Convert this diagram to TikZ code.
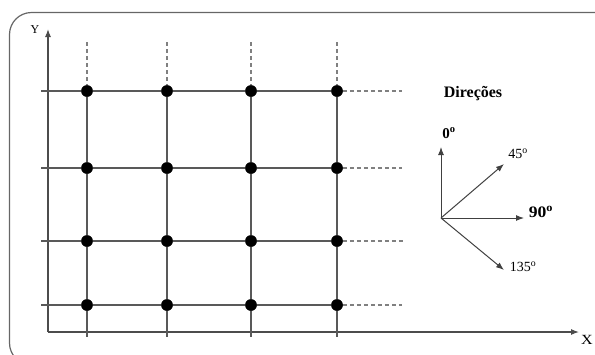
\documentclass[tikz,border=0pt]{standalone}
\usepackage{fontspec}
\setmainfont{Liberation Serif}
\usetikzlibrary{arrows.meta}
\begin{document}
\begin{tikzpicture}[x=1pt,y=-1pt,
  gridline/.style={draw=black!65,line width=1.1pt},
  dashline/.style={draw=black!50,line width=1.1pt,dash pattern=on 4pt off 3pt},
  axisline/.style={draw=black!70,line width=1.1pt,-{Latex[length=8pt,width=6pt]}},
  dirarrow/.style={draw=black!75,line width=1pt,-{Latex[length=8pt,width=6pt]}},
  dot/.style={circle,fill=black,inner sep=0pt,minimum size=11.5pt},
  lbl/.style={inner sep=0pt}]
\useasboundingbox (0,0) rectangle (595,354);
% frame
\begin{scope}
\clip (0,0) rectangle (595,354);
\draw[black!60,line width=1.2pt,rounded corners=22pt] (9.5,12.5) rectangle (616,365);
\end{scope}
% axes
\coordinate (O) at (48,332);
\coordinate (Ytip) at (48,29);
\coordinate (Xtip) at (579,332);
\draw[axisline] (O) -- (Ytip);
\draw[axisline] (O) -- (Xtip);
\node[lbl,font=\fontsize{12}{14}\selectfont] (ylab) at (35,30) {Y};
\node[lbl,xscale=1.15,font=\fontsize{14}{16}\selectfont] (xlab) at (587,340) {X};
% grid coordinates
\foreach \i/\x in {1/87,2/167,3/251,4/337}{
  \coordinate (top\i) at (\x,42);
  \coordinate (bot\i) at (\x,337);
}
\foreach \j/\y in {1/91,2/168,3/241,4/305}{
  \coordinate (left\j) at (41,\y);
}
\coordinate (right1) at (402,91);
\coordinate (right2) at (402,168);
\coordinate (right3) at (405,241);
\coordinate (right4) at (402,305);
% dot nodes
\foreach \i/\x in {1/87,2/167,3/251,4/337}{
  \foreach \j/\y in {1/91,2/168,3/241,4/305}{
    \node[dot] (d\i\j) at (\x,\y) {};
  }
}
% lines
\foreach \j in {1,2,3,4}{
  \draw[gridline] (left\j) -- (d4\j.center);
  \draw[dashline] (d4\j.east) -- (right\j);
}
\foreach \i in {1,2,3,4}{
  \draw[dashline] (top\i) -- (d\i1.north);
  \draw[gridline] (d\i1.center) -- (bot\i);
}
% dots back on top of the lines
\foreach \i in {1,2,3,4}{
  \foreach \j in {1,2,3,4}{
    \fill (d\i\j.center) circle (5.75pt);
  }
}
% directions
\node[lbl,font=\fontsize{16}{18}\selectfont\bfseries] (dir) at (473,94) {Direções};
\coordinate (c) at (441,218);
\coordinate (a0) at (441,147);
\coordinate (a45) at (504,164);
\coordinate (a90) at (524,218);
\coordinate (a135) at (504,270);
\draw[dirarrow] (c) -- (a0);
\draw[dirarrow] (c) -- (a45);
\draw[dirarrow] (c) -- (a90);
\draw[dirarrow] (c) -- (a135);
\node[lbl,font=\fontsize{15}{17}\selectfont\bfseries] (l0) at (449,133) {0\textsuperscript{o}};
\node[lbl,font=\fontsize{14}{16}\selectfont] (l45) at (518,154) {45\textsuperscript{o}};
\node[lbl,xscale=1.1,font=\fontsize{16}{18}\selectfont\bfseries] (l90) at (541,212) {90\textsuperscript{o}};
\node[lbl,font=\fontsize{14}{16}\selectfont] (l135) at (523,267) {135\textsuperscript{o}};
\end{tikzpicture}
\end{document}
